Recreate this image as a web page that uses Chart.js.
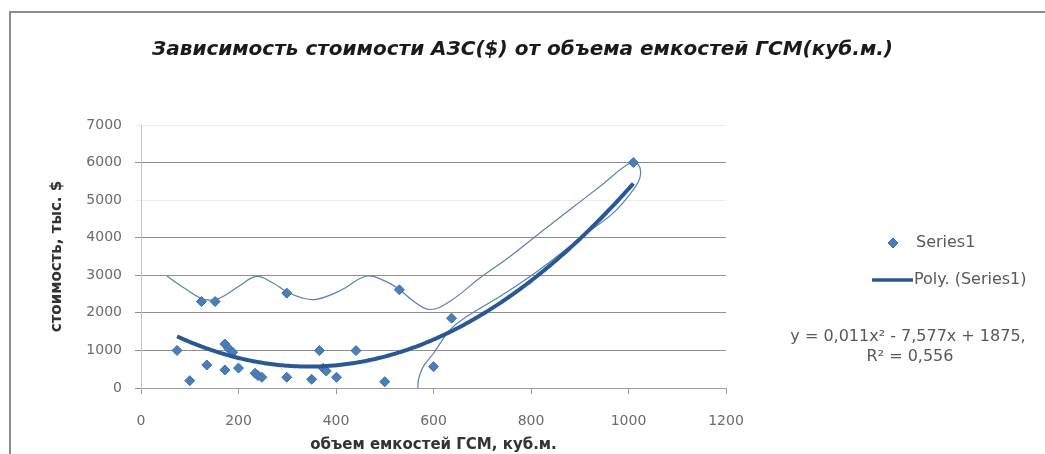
<!DOCTYPE html>
<html>
<head>
<meta charset="utf-8">
<script src="https://cdn.jsdelivr.net/npm/chart.js@4.4.1/dist/chart.umd.min.js"></script>
<style>
  html, body { margin: 0; padding: 0; background: #fff; }
  #wrap { position: relative; width: 1045px; height: 454px; }
</style>
</head>
<body>
<div id="wrap"><canvas id="costChart" width="1045" height="454"></canvas></div>
<script>
// tank volume (cub.m) and station cost (thousand $)
const volumes = [74, 100, 124, 152, 135, 172, 180, 188, 172, 200, 234, 240, 248, 299, 299, 350, 366, 374, 380, 401, 441, 500, 530, 600, 637, 1010];
const costs = [1000, 195, 2300, 2300, 613, 1170, 1050, 950, 480, 530, 392, 330, 285, 2525, 285, 232, 995, 525, 450, 285, 995, 168, 2613, 568, 1858, 6000];

// polynomial trend: a*x^2 + b*x + c
const trendCoef = [0.011, -7.577, 1875];
const rSquared = 0.556;

// thin freehand contour drawn over the plot
const contourX = [53, 90, 124, 140, 160, 200, 237, 270, 299, 330, 360, 410, 463, 500, 530, 560, 593, 634, 695, 757, 818, 880, 942, 1003, 1020, 1024, 1010, 969, 914, 853, 798, 736, 668, 634, 600, 579, 569, 568];
const contourY = [2980, 2650, 2380, 2340, 2380, 2700, 2970, 2800, 2560, 2400, 2360, 2600, 2980, 2850, 2620, 2300, 2090, 2310, 2925, 3500, 4125, 4750, 5370, 5990, 5950, 5635, 5280, 4660, 4125, 3500, 2970, 2435, 1900, 1547, 925, 568, 213, 0];

const xTicks = [0, 200, 400, 600, 800, 1000, 1200];
const yTicks = [0, 1000, 2000, 3000, 4000, 5000, 6000, 7000];

const titleText = "Зависимость стоимости АЗС($) от объема емкостей ГСМ(куб.м.)";
const xTitle = "объем емкостей ГСМ, куб.м.";
const yTitle = "стоимость, тыс. $";
const seriesName = "Series1";
const trendName = "Poly. (Series1)";

const markerColor = "#4a7ebb";
const trendColor = "#2a5894";
const contourColor = "#5a81b4";
const tickFont = { family: "DejaVu Sans", size: 14 };

const points = volumes.map((v, i) => ({ x: v, y: costs[i] }));
const contour = contourX.map((v, i) => ({ x: v, y: contourY[i] }));

// trend curve sampled over the data range
const trend = [];
const xMin = Math.min(...volumes);
const xMax = Math.max(...volumes);
for (let x = xMin; x <= xMax; x += 4) {
    trend.push({ x: x, y: trendCoef[0] * x * x + trendCoef[1] * x + trendCoef[2] });
}

const fmt = (n) => String(Math.abs(n)).replace(".", ",");
const eqLine1 = "y = " + fmt(trendCoef[0]) + "x² " + (trendCoef[1] < 0 ? "- " : "+ ") + fmt(trendCoef[1]) +
    "x " + (trendCoef[2] < 0 ? "- " : "+ ") + fmt(trendCoef[2]) + ",";
const eqLine2 = "R² = " + fmt(rSquared);

// -----------------------
// frame, legend and equation
// -----------------------
const sidePanel = {
    id: "sidePanel",
    beforeDraw(chart) {
        const ctx = chart.ctx;
        ctx.save();
        ctx.fillStyle = "#fff";
        ctx.fillRect(0, 0, chart.width, chart.height);
        ctx.strokeStyle = "#8c8c8c";
        ctx.lineWidth = 2;
        ctx.strokeRect(10, 12, chart.width + 20, chart.height + 20);
        ctx.restore();
    },
    afterDraw(chart) {
        const ctx = chart.ctx;
        const r = chart.chartArea.right;
        ctx.save();
        ctx.font = "16px 'DejaVu Sans'";
        ctx.fillStyle = "#595959";
        ctx.textBaseline = "middle";
        ctx.textAlign = "left";

        ctx.fillStyle = markerColor;
        ctx.strokeStyle = "#41719f";
        Chart.helpers.drawPoint(ctx, { pointStyle: "rectRot", radius: 5, borderWidth: 1 }, r + 167, 243);
        ctx.fillStyle = "#595959";
        ctx.fillText(seriesName, r + 190, 243);

        ctx.strokeStyle = trendColor;
        ctx.lineWidth = 3.5;
        ctx.beginPath();
        ctx.moveTo(r + 146, 280);
        ctx.lineTo(r + 187, 280);
        ctx.stroke();
        ctx.fillText(trendName, r + 188, 280);

        ctx.textAlign = "center";
        ctx.fillText(eqLine1, r + 182, 337);
        ctx.fillText(eqLine2, r + 184, 357);
        ctx.restore();
    },
};

const ctx = document.getElementById("costChart");
const chart = new Chart(ctx, {
    type: "scatter",
    data: {
        datasets: [
            {
                label: trendName,
                data: trend,
                showLine: true,
                pointRadius: 0,
                borderColor: trendColor,
                borderWidth: 4,
                order: 0,
            },
            {
                label: seriesName,
                data: points,
                pointStyle: "rectRot",
                pointRadius: 5,
                backgroundColor: markerColor,
                borderColor: "#41719f",
                borderWidth: 1,
                order: 1,
            },
            {
                label: "contour",
                data: contour,
                showLine: true,
                pointRadius: 0,
                borderColor: contourColor,
                borderWidth: 1.2,
                tension: 0.4,
                order: 2,
            },
        ],
    },
    options: {
        responsive: false,
        animation: false,
        events: [],
        layout: { padding: 0 },
        plugins: {
            legend: { display: false },
            tooltip: { enabled: false },
            title: {
                display: true,
                text: titleText,
                color: "#1a1a1a",
                font: { family: "DejaVu Sans", size: 20, style: "italic", weight: "bold" },
                padding: { top: 38, bottom: 63 },
            },
        },
        scales: {
            x: {
                type: "linear",
                min: xTicks[0],
                max: xTicks[xTicks.length - 1],
                afterBuildTicks(scale) { scale.ticks = xTicks.map(v => ({ value: v })); },
                afterFit(scale) { scale.height = 66; },
                ticks: { font: tickFont, color: "#6b6b6b", padding: 19, maxRotation: 0, callback: (v) => String(v) },
                grid: { drawOnChartArea: false, drawTicks: true, tickLength: 6, color: "#9a9a9a" },
                border: { color: "#9a9a9a" },
                title: {
                    display: true,
                    text: xTitle,
                    color: "#333",
                    font: { family: "DejaVu Sans", size: 15, weight: "bold" },
                    padding: { top: 0, bottom: 0 },
                },
            },
            y: {
                type: "linear",
                min: yTicks[0],
                max: yTicks[yTicks.length - 1],
                afterBuildTicks(scale) { scale.ticks = yTicks.map(v => ({ value: v })); },
                afterFit(scale) { scale.width = 141; },
                ticks: { font: tickFont, color: "#6b6b6b", padding: 13, callback: (v) => String(v) },
                grid: {
                    tickLength: 6,
                    color: (c) => (c.tick && (c.tick.value === 7000 || c.tick.value === 5000)) ? "#ededed" : "#8e8e8e",
                },
                border: { color: "#c4c4c4" },
                title: {
                    display: true,
                    text: yTitle,
                    color: "#333",
                    font: { family: "DejaVu Sans", size: 15, weight: "bold" },
                    padding: { top: 48, bottom: 0 },
                },
            },
            // empty right-hand box that keeps room for the legend
            side: {
                type: "linear",
                position: "right",
                display: true,
                ticks: { display: false },
                grid: { display: false },
                border: { display: false },
                afterFit(scale) { scale.width = 319; },
            },
        },
    },
    plugins: [sidePanel],
});
</script>
</body>
</html>
